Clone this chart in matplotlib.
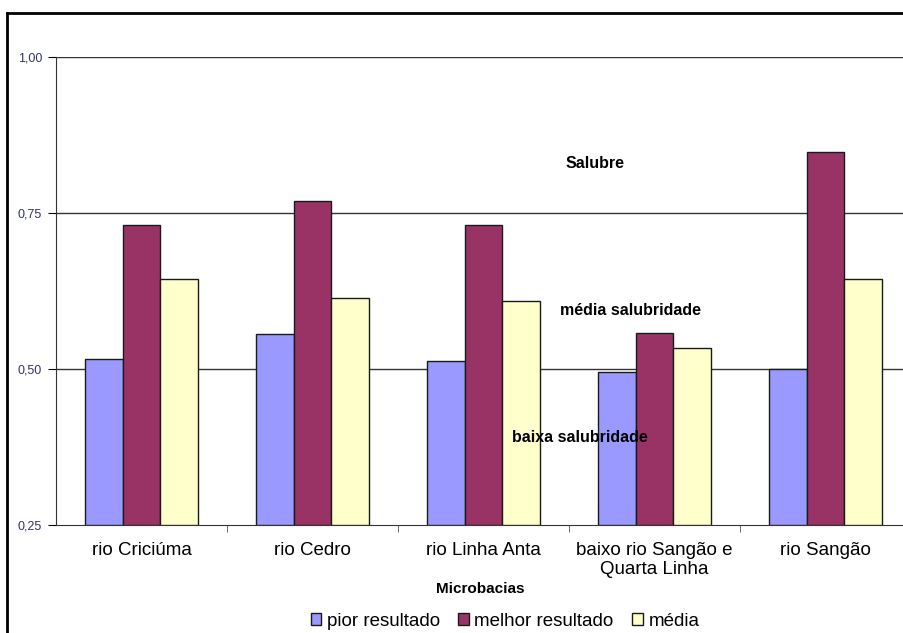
import matplotlib.pyplot as plt
from matplotlib.lines import Line2D
import numpy as np

plt.rcParams['font.family'] = ['Liberation Sans', 'DejaVu Sans']

# Data
categories = ["rio Criciúma", "rio Cedro", "rio Linha Anta",
              "baixo rio Sangão e\nQuarta Linha", "rio Sangão"]
pior = [0.516, 0.556, 0.513, 0.495, 0.500]
melhor = [0.730, 0.769, 0.730, 0.557, 0.848]
media = [0.645, 0.614, 0.609, 0.534, 0.644]
series_names = ["pior resultado", "melhor resultado", "média"]
colors = ["#9999FF", "#993366", "#FFFFCC"]
yticks = [0.25, 0.50, 0.75, 1.00]
ytick_labels = ["0,25", "0,50", "0,75", "1,00"]

W, H = 904, 633
fig = plt.figure(figsize=(W / 100, H / 100), dpi=100)
# plot area in pixels: left 56, right 904, top 57, bottom 525
ax = fig.add_axes([56 / W, 1 - 525 / H, (904 - 56) / W, (525 - 57) / H])

x = np.arange(len(categories))
bw = 0.222
for i, (vals, name, c) in enumerate(zip([pior, melhor, media], series_names, colors)):
    ax.bar(x + (i - 1) * bw, [v - 0.25 for v in vals], bw, bottom=0.25,
           color=c, edgecolor="#1a1a1a", linewidth=1.0, label=name, zorder=3)

ax.set_ylim(0.25, 1.0)
ax.set_xlim(-0.5, -0.5 + 848 / 171)
ax.set_yticks(yticks)
ax.set_yticklabels(ytick_labels, fontsize=9, color="#333366")
for y in yticks[1:]:
    ax.axhline(y, color="#333333", linewidth=1.0, zorder=1)

ax.set_xticks(x)
ax.set_xticklabels(categories, fontsize=13.5, linespacing=1.2)
ax.tick_params(axis="x", length=0, pad=12)
ax.set_xticks(x[:-1] + 0.5, minor=True)
ax.tick_params(axis="x", which="minor", length=5, color="#555555", direction="out")
ax.tick_params(axis="y", length=6, direction="out", pad=4)

for s in ["top", "right"]:
    ax.spines[s].set_visible(False)
ax.spines["left"].set_color("#333333")
ax.spines["bottom"].set_color("#333333")

ax.set_xlabel("Microbacias", fontsize=11, fontweight="bold", labelpad=3)

# zone annotations
ax.text(2.48, 0.830, "Salubre", fontsize=11.5, fontweight="bold", va="center", zorder=5)
ax.text(2.45, 0.593, "média salubridade", fontsize=11.5, fontweight="bold", va="center", zorder=5)
ax.text(2.165, 0.391, "baixa salubridade", fontsize=11.5, fontweight="bold", va="center", zorder=5)

leg = fig.legend(loc="center", bbox_to_anchor=(505 / W, 1 - 621 / H), ncol=3,
                 frameon=False, fontsize=13.5, handlelength=0.55, handleheight=0.55,
                 handletextpad=0.3, columnspacing=1.0)

# outer chart border (left and top visible)
fig.add_artist(Line2D([7 / W, 7 / W], [0, 1 - 13 / H], color="black", linewidth=2,
                      transform=fig.transFigure))
fig.add_artist(Line2D([7 / W, 1], [1 - 13 / H, 1 - 13 / H], color="black", linewidth=2,
                      transform=fig.transFigure))

fig.savefig("out.png", dpi=100)
